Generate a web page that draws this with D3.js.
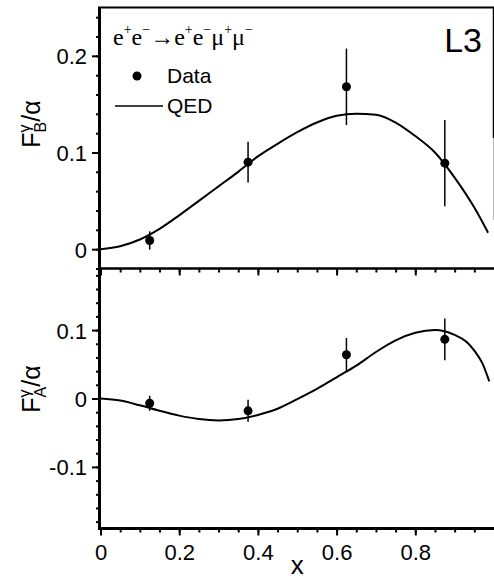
<!DOCTYPE html>
<html>
<head>
<meta charset="utf-8">
<script src="https://cdn.jsdelivr.net/npm/d3@7"></script>
<style>
  body { margin: 0; background: #fff; }
  svg { display: block; font-family: 'Liberation Sans', Arial, Helvetica, sans-serif; }
</style>
</head>
<body>
<svg id="chart" width="494" height="579"></svg>
<script>
// measured points (x bins) with errors
const pointX = [0.125, 0.375, 0.625, 0.875];
const fbValues = [0.009, 0.090, 0.168, 0.089];
const fbErrors = [0.0095, 0.021, 0.0395, 0.0445];
const faValues = [-0.007, -0.018, 0.064, 0.0865];
const faErrors = [0.011, 0.016, 0.0245, 0.0305];

// QED prediction
const qedBx = [0, 0.05, 0.1, 0.15, 0.2, 0.25, 0.3, 0.35, 0.4, 0.45, 0.5, 0.55, 0.6, 0.65, 0.7, 0.75, 0.8, 0.85, 0.9, 0.95, 0.985];
const qedB = [0, 0.003, 0.010, 0.021, 0.035, 0.050, 0.065, 0.080, 0.096, 0.109, 0.121, 0.131, 0.138, 0.140, 0.139, 0.131, 0.117, 0.100, 0.074, 0.043, 0.017];
const qedAx = [0, 0.05, 0.1, 0.15, 0.2, 0.25, 0.3, 0.35, 0.4, 0.45, 0.5, 0.55, 0.6, 0.65, 0.7, 0.75, 0.8, 0.85, 0.9, 0.93, 0.95, 0.97, 0.988];
const qedA = [0, -0.003, -0.010, -0.018, -0.025, -0.030, -0.032, -0.030, -0.024, -0.015, -0.001, 0.014, 0.031, 0.048, 0.068, 0.085, 0.096, 0.100, 0.093, 0.083, 0.070, 0.052, 0.025];

const xTickValues = [0, 0.2, 0.4, 0.6, 0.8];
const fbTickValues = [0, 0.1, 0.2];
const faTickValues = [-0.1, 0, 0.1];

const svg = d3.select('#chart');

const x = d3.scaleLinear().domain([0, 1]).range([100.5, 494]);
const yB = d3.scaleLinear().domain([-0.02, 0.25]).range([268.5, 7.5]);
const yA = d3.scaleLinear().domain([-0.19, 0.19]).range([528.5, 268.5]);

const fmt = (d) => (d === 0 ? '0' : d3.format('.1f')(d).replace('−', '-'));

const styleAxis = (g) => {
  g.select('.domain').remove();
  g.selectAll('.tick line').attr('stroke', '#000').attr('stroke-width', 2);
  g.selectAll('.tick text')
    .attr('fill', '#000')
    .style('font-size', '22px')
    .style('font-family', "'Liberation Sans', Arial, sans-serif");
};

// y axes, major + minor ticks
const drawY = (scale, majors, minors) => {
  svg.append('g')
    .attr('transform', 'translate(100,0)')
    .call(d3.axisLeft(scale).tickValues(minors).tickSize(4).tickFormat(''))
    .call(styleAxis);
  svg.append('g')
    .attr('transform', 'translate(100,0)')
    .call(d3.axisLeft(scale).tickValues(majors).tickSize(8).tickPadding(5).tickFormat(fmt))
    .call(styleAxis)
    .selectAll('.tick text')
    .attr('dy', '0.36em');
};
drawY(yB, fbTickValues, d3.range(-0.02, 0.245, 0.02));
drawY(yA, faTickValues, d3.range(-0.18, 0.185, 0.02));

// x axis on bottom and tick marks hanging from the divider
const xMinor = d3.range(0.05, 0.99, 0.05);
[528.5, 268.5].forEach((yPos, i) => {
  svg.append('g')
    .attr('transform', 'translate(0,' + yPos + ')')
    .call(d3.axisBottom(x).tickValues(xMinor).tickSize(4).tickFormat(''))
    .call(styleAxis);
  const g = svg.append('g')
    .attr('transform', 'translate(0,' + yPos + ')')
    .call(d3.axisBottom(x).tickValues(xTickValues).tickSize(7).tickPadding(6).tickFormat(i === 0 ? fmt : ''))
    .call(styleAxis);
  g.selectAll('.tick text').attr('dy', '0.82em');
});

// frame
const frame = svg.append('g').attr('stroke', '#000').attr('fill', 'none');
frame.append('line').attr('x1', x(0)).attr('x2', x(1)).attr('y1', yB(0.25)).attr('y2', yB(0.25)).attr('stroke-width', 2);
frame.append('line').attr('x1', x(1) - 0.5).attr('x2', x(1) - 0.5).attr('y1', yB(0.25)).attr('y2', 138).attr('stroke-width', 1.5);
frame.append('line').attr('x1', x(1) - 0.5).attr('x2', x(1) - 0.5).attr('y1', 138).attr('y2', 220).attr('stroke', '#bbb').attr('stroke-width', 1);
frame.append('line').attr('x1', x(0) - 1).attr('x2', x(1)).attr('y1', 268.5).attr('y2', 268.5).attr('stroke-width', 2.5);
frame.append('line').attr('x1', x(0) - 1).attr('x2', x(1)).attr('y1', 528.5).attr('y2', 528.5).attr('stroke-width', 3);
frame.append('line').attr('x1', x(0) - 1).attr('x2', x(0) - 1).attr('y1', yB(0.25) - 1).attr('y2', 530).attr('stroke-width', 3);

// QED curves
const drawCurve = (xs, ys, scale) => {
  const line = d3.line()
    .x((d, i) => x(xs[i]))
    .y((d) => scale(d))
    .curve(d3.curveMonotoneX);
  svg.append('path')
    .datum(ys)
    .attr('fill', 'none')
    .attr('stroke', '#000')
    .attr('stroke-width', 2)
    .attr('d', line);
};
drawCurve(qedBx, qedB, yB);
drawCurve(qedAx, qedA, yA);

// data points with error bars
const drawPoints = (vals, errs, scale) => {
  const g = svg.append('g');
  g.selectAll('line.err')
    .data(vals)
    .enter()
    .append('line')
    .attr('class', 'err')
    .attr('x1', (d, i) => x(pointX[i]))
    .attr('x2', (d, i) => x(pointX[i]))
    .attr('y1', (d, i) => scale(d - errs[i]))
    .attr('y2', (d, i) => scale(d + errs[i]))
    .attr('stroke', '#000')
    .attr('stroke-width', 1.5);
  g.selectAll('circle')
    .data(vals)
    .enter()
    .append('circle')
    .attr('cx', (d, i) => x(pointX[i]))
    .attr('cy', (d) => scale(d))
    .attr('r', 4.5)
    .attr('fill', '#000');
};
drawPoints(fbValues, fbErrors, yB);
drawPoints(faValues, faErrors, yA);

// axis titles
const yTitle = (cx, cy, sub) => {
  const t = svg.append('text')
    .attr('transform', 'translate(' + cx + ',' + cy + ') rotate(-90)')
    .attr('text-anchor', 'middle')
    .style('font-size', '25px')
    .attr('fill', '#000');
  t.append('tspan').text('F');
  t.append('tspan').attr('dy', -10).style('font-size', '16px').text('γ');
  t.append('tspan').attr('dx', -8).attr('dy', 16).style('font-size', '16px').text(sub);
  t.append('tspan').attr('dy', -6).text('/α');
};
yTitle(40, 124, 'B');
yTitle(40, 389, 'A');

svg.append('text')
  .attr('x', (x(0) + x(1)) / 2)
  .attr('y', 574)
  .attr('text-anchor', 'middle')
  .style('font-size', '26px')
  .text('x');

// process label and legend
const proc = svg.append('text')
  .attr('x', 113)
  .attr('y', 45)
  .style('font-family', "'Liberation Serif', 'Times New Roman', serif")
  .style('font-size', '24px');
const parts = [['e', '+'], ['e', '−'], ['→', null], ['e', '+'], ['e', '−'], ['μ', '+'], ['μ', '−']];
parts.forEach((p) => {
  proc.append('tspan').attr('y', 45).text(p[0]);
  if (p[1]) {
    proc.append('tspan').attr('y', 34).style('font-size', '14px').text(p[1]);
  }
});

const legend = svg.append('g').style('font-size', '21px');
legend.append('circle').attr('cx', 137).attr('cy', 76).attr('r', 4.5).attr('fill', '#000');
legend.append('text').attr('x', 167).attr('y', 83).text('Data');
legend.append('line').attr('x1', 115).attr('x2', 163).attr('y1', 106).attr('y2', 106).attr('stroke', '#000').attr('stroke-width', 1.5);
legend.append('text').attr('x', 167).attr('y', 113).text('QED');

svg.append('text')
  .attr('x', 482)
  .attr('y', 52)
  .attr('text-anchor', 'end')
  .style('font-size', '34px')
  .text('L3');
</script>
</body>
</html>
